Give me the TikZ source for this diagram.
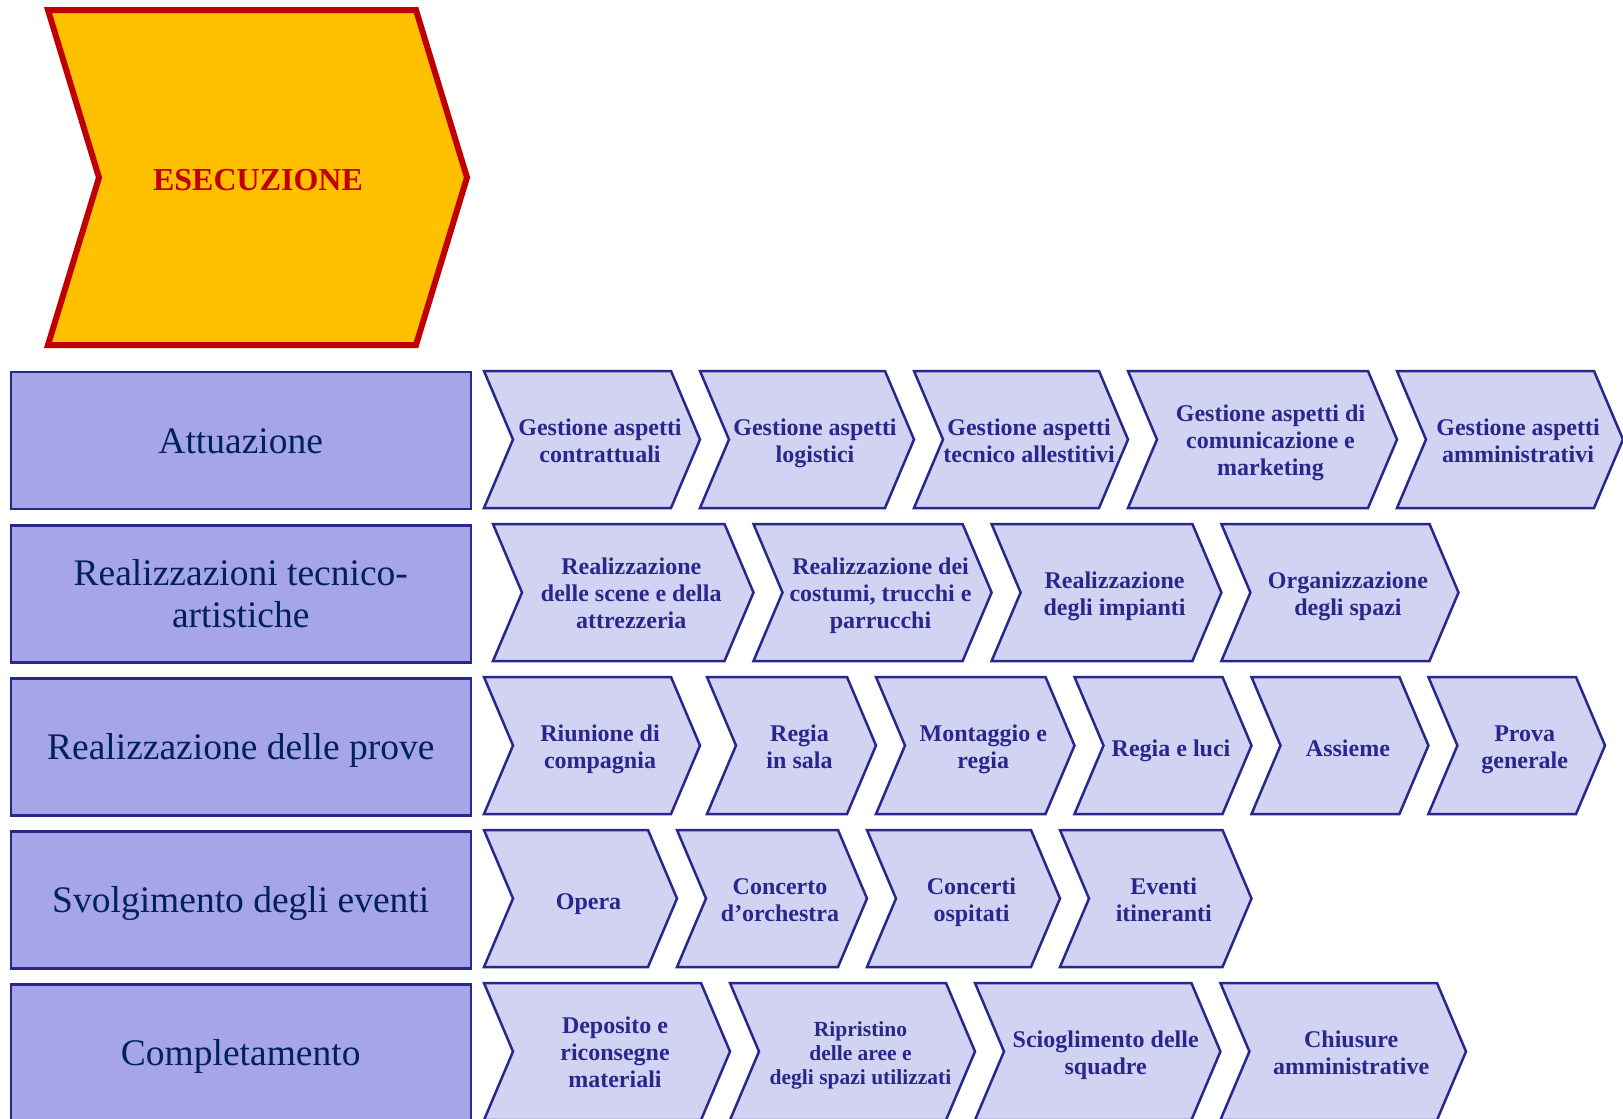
\documentclass[tikz,border=0pt]{standalone}
\usepackage{fontspec}
\setmainfont{Liberation Serif}
\definecolor{boxfill}{RGB}{165,165,232}
\definecolor{chevline}{RGB}{40,40,140}
\definecolor{chevfill}{RGB}{210,210,243}
\definecolor{lefttext}{RGB}{0,32,96}
\definecolor{chevtxt}{RGB}{40,40,140}
\definecolor{esecfill}{RGB}{255,192,0}
\definecolor{esecred}{RGB}{192,0,0}
\tikzset{
  chevron/.style={draw=chevline, fill=chevfill, line width=2.5pt, line join=miter},
  chevtext/.style={text=chevtxt, font=\fontsize{24}{27}\selectfont\bfseries, align=center, inner sep=0pt},
  smalltext/.style={font=\fontsize{21.5}{24}\selectfont\bfseries},
  oneline/.style={yshift=-2pt},
  leftbox/.style={draw=chevline, fill=boxfill, line width=2.5pt, text=lefttext,
    font=\fontsize{37.5}{41.4}\selectfont, align=center, anchor=north west,
    minimum width=460pt, minimum height=137pt, inner sep=0pt},
  esecshape/.style={draw=esecred, fill=esecfill, line width=6pt, line join=miter},
  esectext/.style={text=esecred, font=\fontsize{32}{36}\selectfont\bfseries, inner sep=0pt},
}
% struts inside the text so that first-line height and last-line depth are fixed
\newcommand{\ctxt}[1]{\rule{0pt}{24pt}#1\rule[-6pt]{0pt}{6pt}}
\newcommand{\ltxt}[1]{\rule{0pt}{35pt}#1\rule[-9.4pt]{0pt}{9.4pt}}
% #1 name, #2 left x, #3 tip x, #4 top y, #5 extra style, #6 text
\newcommand{\chev}[6]{%
  \draw[chevron] (#2,#4) -- ({#3-29},#4) -- (#3,{#4+68.5}) -- ({#3-29},{#4+137})
    -- (#2,{#4+137}) -- ({#2+29},{#4+68.5}) -- cycle;
  \node[chevtext,#5] (#1) at ({(#2+#3)/2+8},{#4+68.5}) {\ctxt{#6}};
}
\begin{document}
\begin{tikzpicture}[x=1pt,y=-1pt]
\useasboundingbox (0,0) rectangle (1623,1119);
\clip (0,0) rectangle (1623,1119);

% ESECUZIONE
\draw[esecshape] (48,10) -- (416,10) -- (467,177.5) -- (416,345) -- (48,345) -- (99,177.5) -- cycle;
\node[esectext] (esec) at (258,179.6) {ESECUZIONE};

% left boxes
\node[leftbox] (attuazione) at (9.5,370.5) {\ltxt{Attuazione}};
\node[leftbox] (realtec) at (9.5,524) {\ltxt{Realizzazioni tecnico-\\artistiche}};
\node[leftbox] (prove) at (9.5,677) {\ltxt{Realizzazione delle prove}};
\node[leftbox] (eventi) at (9.5,830) {\ltxt{Svolgimento degli eventi}};
\node[leftbox] (complet) at (9.5,983) {\ltxt{Completamento}};

% row 1
\chev{a1}{484}{700}{371}{}{Gestione aspetti\\contrattuali}
\chev{a2}{700}{914}{371}{}{Gestione aspetti\\logistici}
\chev{a3}{914}{1128}{371}{}{Gestione aspetti\\tecnico allestitivi}
\chev{a4}{1128}{1397}{371}{}{Gestione aspetti di\\comunicazione e\\marketing}
\chev{a5}{1397}{1623}{371}{}{Gestione aspetti\\amministrativi}

% row 2
\chev{b1}{493}{753.5}{524}{}{Realizzazione\\delle scene e della\\attrezzeria}
\chev{b2}{753.5}{991.6}{524}{}{Realizzazione dei\\costumi, trucchi e\\parrucchi}
\chev{b3}{991.6}{1221.4}{524}{}{Realizzazione\\degli impianti}
\chev{b4}{1221.4}{1458.5}{524}{}{Organizzazione\\degli spazi}

% row 3
\chev{c1}{484}{700}{677}{}{Riunione di\\compagnia}
\chev{c2}{707}{876}{677}{}{Regia\\in sala}
\chev{c3}{876}{1074.5}{677}{}{Montaggio e\\regia}
\chev{c4}{1074.5}{1251.5}{677}{oneline}{Regia e luci}
\chev{c5}{1251.5}{1428.4}{677}{oneline}{Assieme}
\chev{c6}{1428.4}{1605}{677}{}{Prova\\generale}

% row 4
\chev{d1}{484}{677}{830}{oneline}{Opera}
\chev{d2}{677}{867}{830}{}{Concerto\\d’orchestra}
\chev{d3}{867}{1060}{830}{}{Concerti\\ospitati}
\chev{d4}{1060}{1251.5}{830}{}{Eventi\\itineranti}

% row 5
\chev{e1}{484}{730}{983}{}{Deposito e\\riconsegne\\materiali}
\chev{e2}{730}{975}{983}{smalltext}{Ripristino\\delle aree e\\degli spazi utilizzati}
\chev{e3}{975}{1220.4}{983}{}{Scioglimento delle\\squadre}
\chev{e4}{1220.4}{1466}{983}{}{Chiusure\\amministrative}
\end{tikzpicture}
\end{document}
